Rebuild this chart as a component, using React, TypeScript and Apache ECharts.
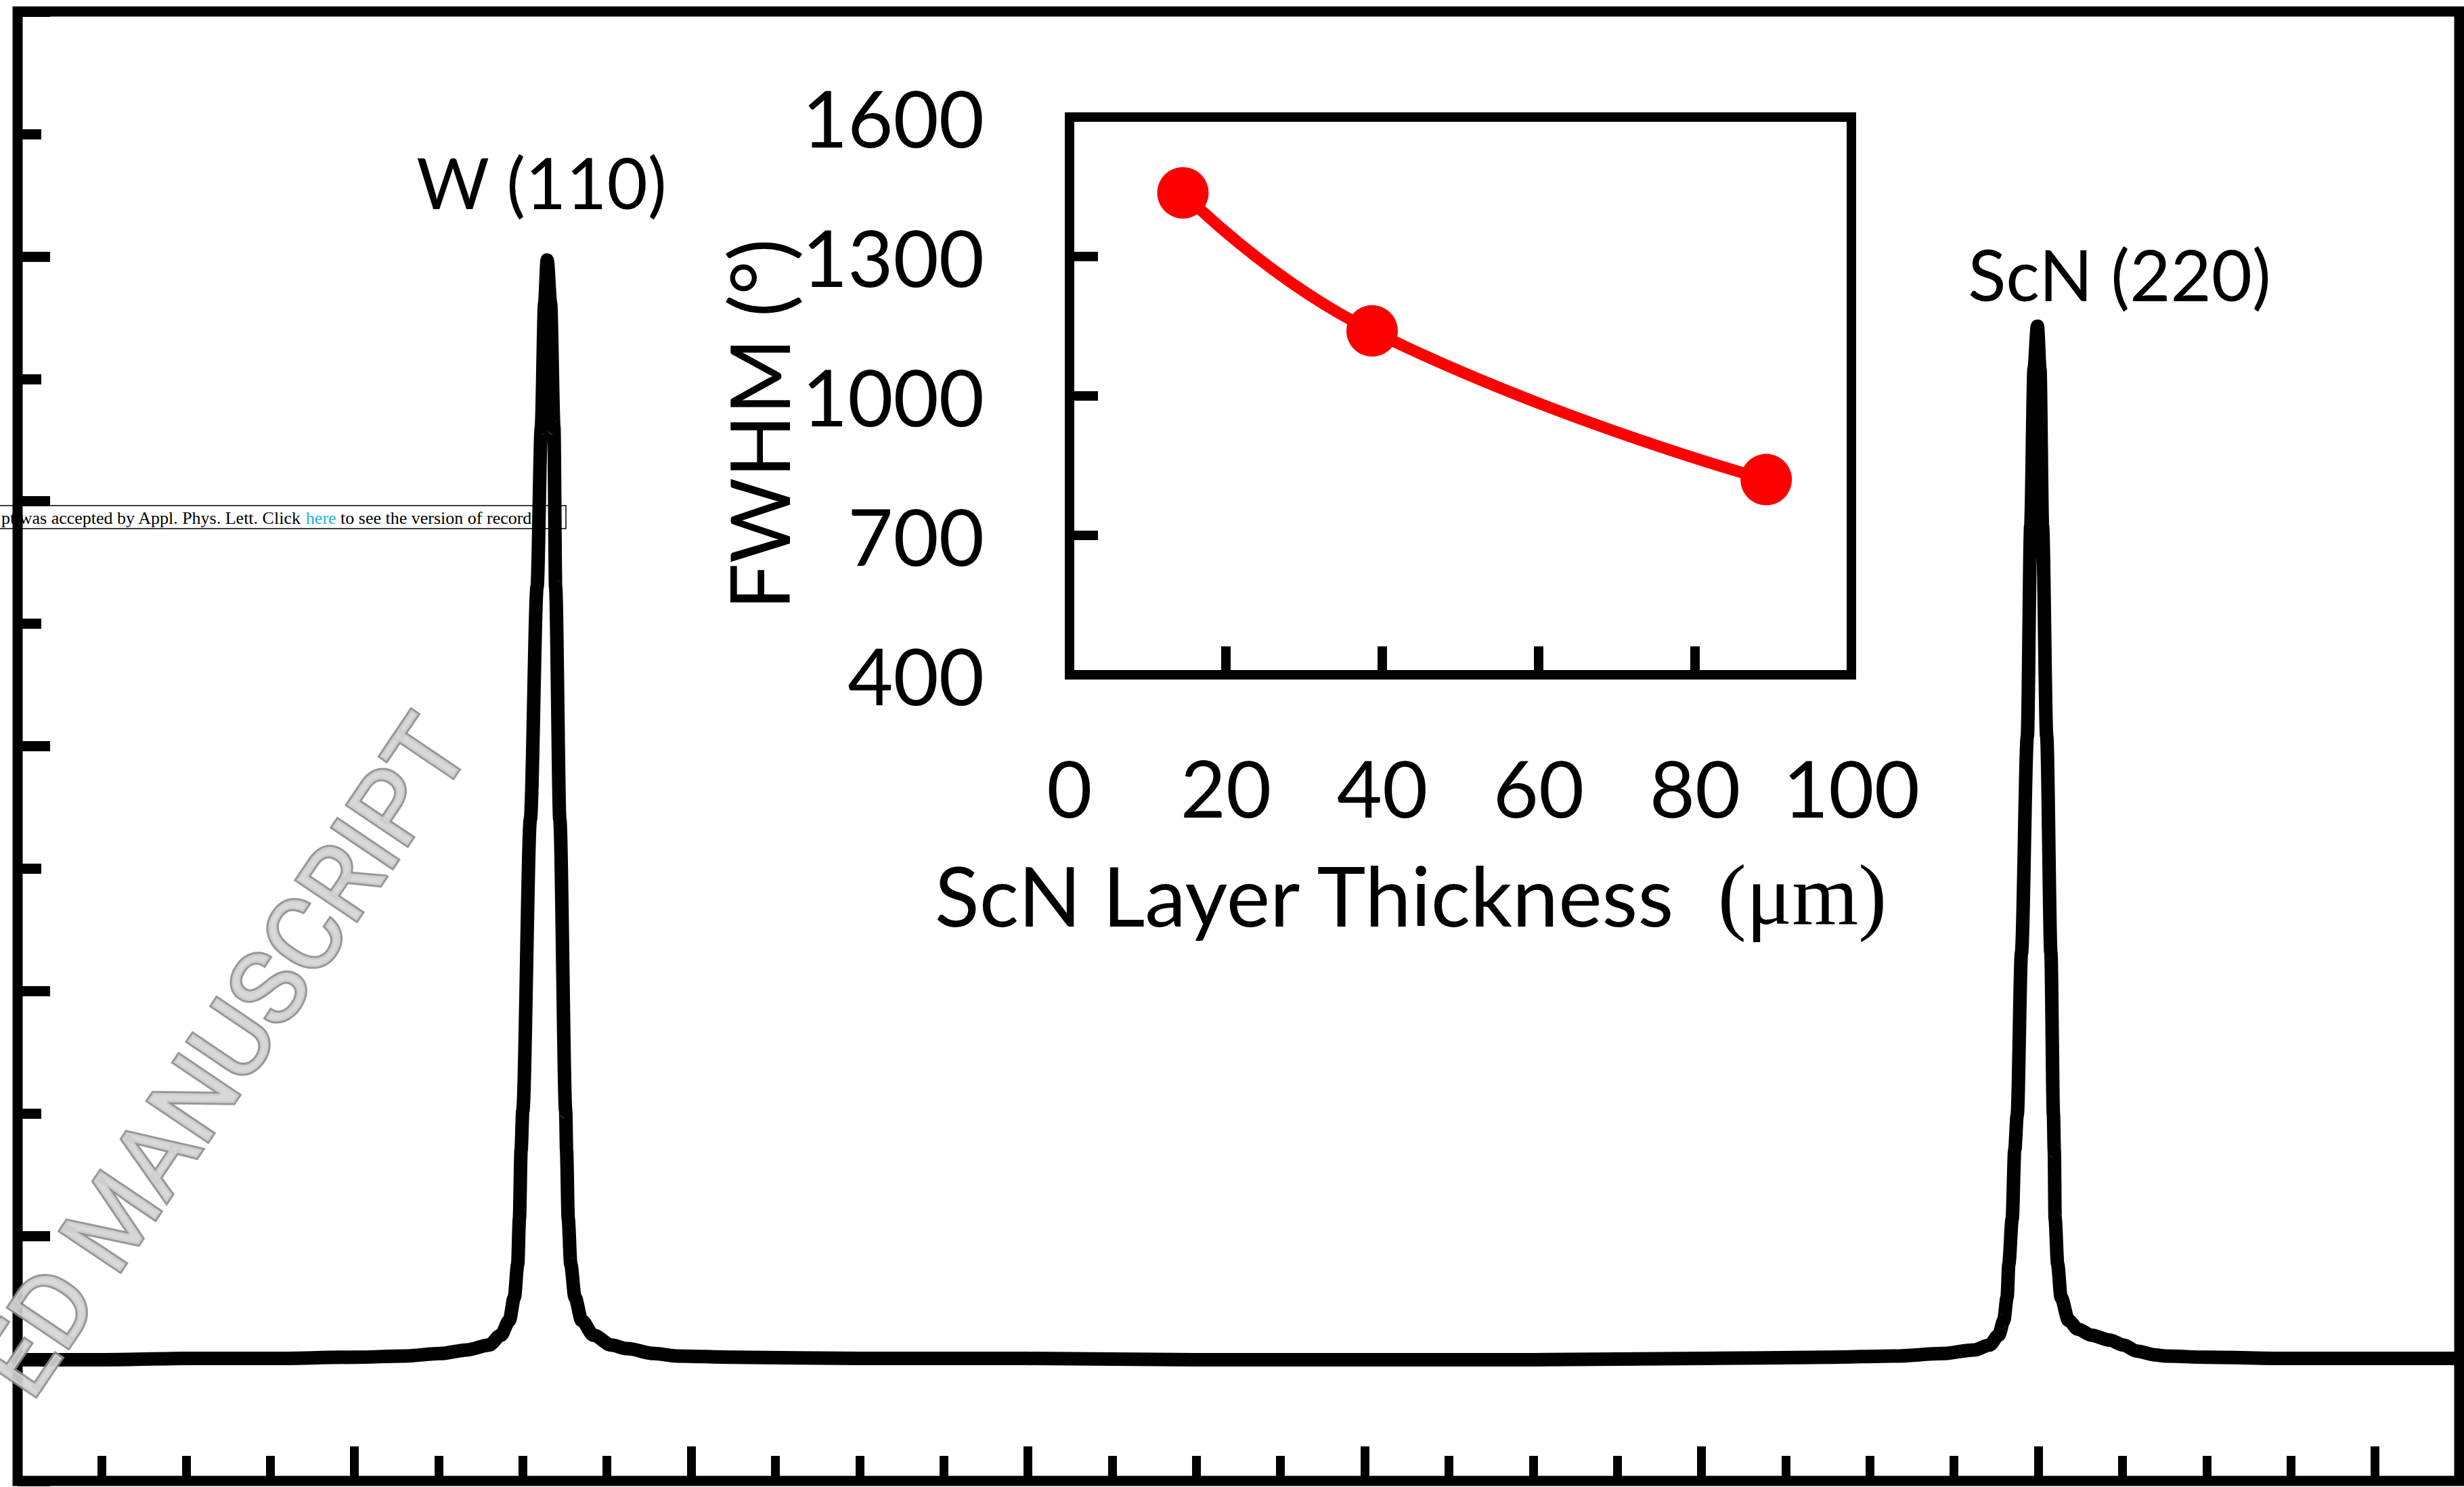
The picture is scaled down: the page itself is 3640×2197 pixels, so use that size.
import React, { useEffect, useRef } from "react";
import * as echarts from "echarts";

// Main XRD scan: 2θ (degrees) and intensity (arbitrary units)
const twoTheta = [
  34.0, 35.0, 36.0, 37.0, 38.0, 38.6, 39.02, 39.34, 39.6, 39.74, 39.84, 39.9, 39.94, 39.96, 39.98, 40.0,
  40.09, 40.17, 40.22, 40.26, 40.29, 40.33, 40.37, 40.39, 40.44, 40.51, 40.52, 40.54, 40.57, 40.62, 40.7,
  40.84, 41.05, 41.24, 41.56, 41.83, 42.5, 44.0, 46.0, 48.0, 50.0, 52.0, 54.0, 55.5, 56.3, 56.86, 57.24,
  57.42, 57.53, 57.59, 57.63, 57.65, 57.69, 57.72, 57.75, 57.8, 57.87, 57.91, 57.95, 57.99, 58.02, 58.05,
  58.1, 58.15, 58.18, 58.19, 58.2, 58.23, 58.27, 58.36, 58.47, 58.63, 58.85, 59.01, 59.17, 59.38, 59.51,
  60.0, 61.0, 62.0, 63.0,
];
const intensity = [
  0.99, 0.99, 1.0, 1.0, 1.01, 1.02, 1.04, 1.07, 1.11, 1.19, 1.31, 1.5, 1.77, 2.14, 2.7, 3.02,
  5.4, 7.3, 8.6, 9.62, 9.97, 9.62, 8.6, 7.3, 5.4, 3.02, 2.7, 2.14, 1.77, 1.5, 1.31,
  1.19, 1.11, 1.08, 1.04, 1.02, 1.01, 1.0, 1.0, 0.99, 0.99, 0.99, 1.0, 1.01, 1.02, 1.04, 1.07,
  1.11, 1.19, 1.31, 1.5, 1.77, 2.14, 2.7, 2.99, 4.31, 6.08, 7.8, 9.08, 9.43, 9.08, 7.8,
  6.08, 4.31, 2.99, 2.7, 2.14, 1.77, 1.5, 1.31, 1.24, 1.19, 1.15, 1.11, 1.06, 1.03, 1.02,
  1.01, 1.0, 1.0, 1.0,
];

// Inset: FWHM vs ScN layer thickness
const thickness = [14.5, 38.7, 89.1];
const fwhm = [1437, 1140, 820];

const peakLabels = ["W (110)", "ScN (220)"];
const insetXName = "ScN Layer Thickness  ";
const insetXUnit = "(μm)";
const insetYName = "FWHM (°)";
// visible part of the publisher's stamp (cut at the left edge in the original)
const stampBefore = "pt was accepted by Appl. Phys. Lett. Click ";
const stampLink = "here";
const stampAfter = " to see the version of record.";
// visible part of the diagonal watermark
const watermark = "ED MANUSCRIPT";

const SANS = "Lato";

export default function App() {
  const ref = useRef<HTMLDivElement>(null);

  useEffect(() => {
    if (!ref.current) return;
    const chart = echarts.init(ref.current, null, { renderer: "svg" });
    const scan = twoTheta.map((t, i) => [t, intensity[i]]);
    const inset = thickness.map((t, i) => [t, fwhm[i]]);
    const plain = (v: number) => String(v);

    chart.setOption({
      animation: false,
      backgroundColor: "#ffffff",
      grid: [
        {
          left: 26, right: 7, top: 17, bottom: 9,
          show: true, borderColor: "#000", borderWidth: 15, backgroundColor: "transparent",
        },
        {
          left: 1580, right: 905, top: 173, bottom: 1200,
          show: true, borderColor: "#000", borderWidth: 14, backgroundColor: "transparent",
        },
      ],
      xAxis: [
        {
          gridIndex: 0, type: "value", min: 34, max: 63, interval: 4, position: "bottom",
          axisLine: { show: false, onZero: false },
          axisTick: { show: true, inside: true, length: 51, lineStyle: { color: "#000", width: 13 } },
          axisLabel: { show: false }, splitLine: { show: false },
        },
        {
          gridIndex: 0, type: "value", min: 34, max: 63, interval: 1, position: "bottom",
          axisLine: { show: false, onZero: false },
          axisTick: { show: true, inside: true, length: 37, lineStyle: { color: "#000", width: 13 } },
          axisLabel: { show: false }, splitLine: { show: false },
        },
        {
          gridIndex: 1, type: "value", min: 0, max: 100, interval: 20, position: "bottom",
          axisLine: { show: false, onZero: false },
          axisTick: { show: true, inside: true, length: 42, lineStyle: { color: "#000", width: 14 } },
          axisLabel: { show: true, margin: 108, color: "#000", fontFamily: SANS, fontSize: 116, formatter: plain },
          splitLine: { show: false },
          name: "{a|" + insetXName + "}{b|" + insetXUnit + "}",
          nameLocation: "middle",
          nameGap: 262,
          nameTextStyle: {
            padding: [0, 150, 0, 0],
            rich: {
              a: { fontFamily: SANS, fontSize: 122, color: "#000" },
              b: { fontFamily: "Liberation Serif", fontSize: 126, color: "#000" },
            },
          },
        },
      ],
      yAxis: [
        {
          gridIndex: 0, type: "value", min: 0, max: 12, interval: 2, position: "left",
          axisLine: { show: false, onZero: false },
          axisTick: { show: true, inside: true, length: 48, lineStyle: { color: "#000", width: 15 } },
          minorTick: { show: true, splitNumber: 2, length: 35, lineStyle: { color: "#000", width: 15 } },
          axisLabel: { show: false }, splitLine: { show: false }, minorSplitLine: { show: false },
        },
        {
          gridIndex: 1, type: "value", min: 400, max: 1600, interval: 300, position: "left",
          axisLine: { show: false, onZero: false },
          axisTick: { show: true, inside: true, length: 42, lineStyle: { color: "#000", width: 14 } },
          axisLabel: { show: true, margin: 126, color: "#000", fontFamily: SANS, fontSize: 116, formatter: plain },
          splitLine: { show: false },
          name: insetYName,
          nameLocation: "middle",
          nameRotate: 90,
          nameGap: 388,
          nameTextStyle: {
            fontFamily: SANS, fontSize: 122, color: "#000",
            padding: [0, 84, 0, 0],
          },
        },
      ],
      series: [
        {
          type: "line",
          xAxisIndex: 0, yAxisIndex: 0,
          data: scan,
          showSymbol: false,
          smooth: 0.3,
          smoothMonotone: "x",
          lineStyle: { color: "#000", width: 20, cap: "round", join: "round" },
          z: 3,
        },
        {
          type: "line",
          xAxisIndex: 2, yAxisIndex: 1,
          data: inset,
          smooth: 0.5,
          symbol: "circle",
          symbolSize: 76,
          lineStyle: { color: "#ff0000", width: 17 },
          itemStyle: { color: "#ff0000" },
          z: 3,
        },
      ],
      graphic: [
        {
          type: "rect", z: -5,
          shape: { x: -5, y: 747, width: 841, height: 34 },
          style: { fill: "#fff", stroke: "#000", lineWidth: 1.5 },
        },
        {
          type: "line", z: -5,
          shape: { x1: 816, y1: 747, x2: 816, y2: 781 },
          style: { stroke: "#000", lineWidth: 1.5 },
        },
        {
          type: "text", z: -4, x: 2, y: 765,
          style: {
            text: "{t|" + stampBefore + "}{h|" + stampLink + "}{t|" + stampAfter + "}",
            align: "left", verticalAlign: "middle",
            rich: {
              t: { fontFamily: "Liberation Serif", fontSize: 26, fill: "#000" },
              h: { fontFamily: "Liberation Serif", fontSize: 26, fill: "#22b5d6" },
            },
          },
        },
        {
          type: "text", x: 800, y: 268,
          style: { text: peakLabels[0], fontFamily: SANS, fontSize: 104, fill: "#000", align: "center", verticalAlign: "middle" },
        },
        {
          type: "text", x: 3131, y: 404,
          style: { text: peakLabels[1], fontFamily: SANS, fontSize: 104, fill: "#000", align: "center", verticalAlign: "middle" },
        },
        {
          type: "text", z: 50, x: 656, y: 1077, rotation: (56 * Math.PI) / 180,
          style: {
            text: watermark, fontFamily: "Roboto", fontSize: 151,
            fill: "rgba(212,212,212,0.9)", stroke: "rgba(140,140,140,0.9)", lineWidth: 6,
            align: "right", verticalAlign: "middle",
          },
        },
      ],
    });

    return () => chart.dispose();
  }, []);

  return (
    <div
      ref={ref}
      style={{ position: "absolute", left: 0, top: 0, width: 3640, height: 2197, background: "#fff" }}
    />
  );
}
